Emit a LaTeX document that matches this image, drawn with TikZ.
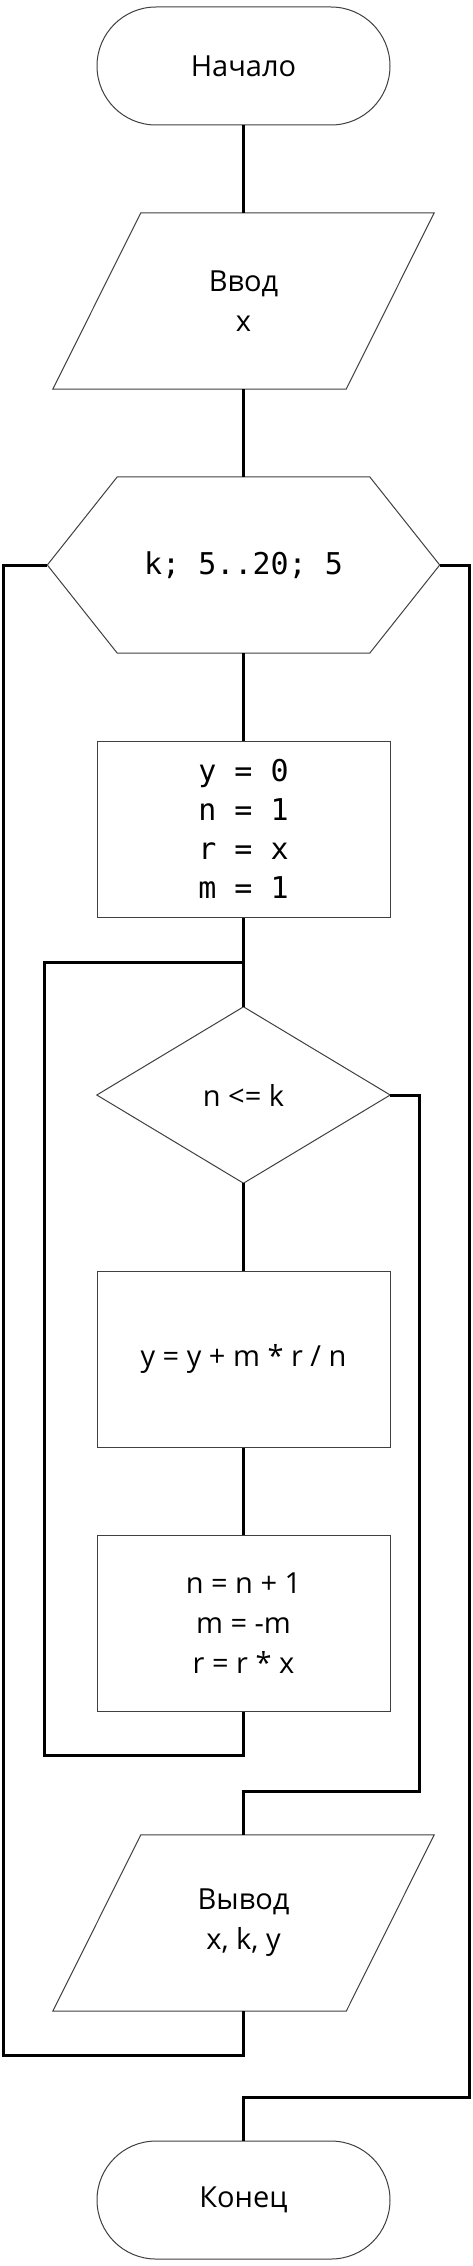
\documentclass[tikz,border=0pt]{standalone}
\usepackage{fontspec}
\setmainfont{Open Sans}
\newfontfamily\monof{DejaVu Sans Mono}
\tikzset{
  txt/.style={font=\fontsize{29}{40}\selectfont, align=center, inner sep=0pt, text=black},
  mono/.style={font=\monof\fontsize{30}{39}\selectfont, align=center, inner sep=0pt, text=black},
  outline/.style={draw=black!75, line width=1pt},
  term/.style={txt, outline, rounded corners=59pt, minimum width=293pt, minimum height=118pt},
  procbox/.style={outline, minimum width=293pt, minimum height=176pt},
  frame/.style={minimum width=#1, minimum height=176pt},
  conn/.style={line width=3pt, draw=black, line join=miter}
}
\begin{document}
\begin{tikzpicture}[x=1pt,y=-1pt]
\useasboundingbox[fill=white] (0,0) rectangle (472,2266);

% nodes
\node[term] (start) at (243.5,66) {Начало};
\node[txt, frame=381pt] (in) at (243.5,301) {Ввод\\x};
\node[mono, frame=392pt] (hex) at (243.5,565) {k; 5..20; 5};
\node[mono, procbox] (r1) at (243.5,829) {y = 0\\n = 1\\r = x\\m = 1};
\node[txt, frame=293pt] (dia) at (243.5,1095) {n <= k};
\node[txt, procbox] (r2) at (243.5,1359) {y = y + m * r / n};
\node[txt, procbox] (r3) at (243.5,1623) {n = n + 1\\m = -m\\r = r * x};
\node[txt, frame=381pt] (out) at (243.5,1923) {Вывод\\x, k, y};
\node[term] (end) at (243.5,2200) {Конец};

% outlines of special shapes
\draw[outline] ([xshift=88pt]in.north west) -- (in.north east) -- ([xshift=-88pt]in.south east) -- (in.south west) -- cycle;
\draw[outline] ([xshift=88pt]out.north west) -- (out.north east) -- ([xshift=-88pt]out.south east) -- (out.south west) -- cycle;
\draw[outline] ([xshift=70pt]hex.north west) -- ([xshift=-70pt]hex.north east) -- (hex.east) -- ([xshift=-70pt]hex.south east) -- ([xshift=70pt]hex.south west) -- (hex.west) -- cycle;
\draw[outline] (dia.north) -- (dia.east) -- (dia.south) -- (dia.west) -- cycle;

% helper coordinates
\coordinate (ij) at (243.5,962);
\coordinate (itl) at (44,962);
\coordinate (ib) at (243.5,1755);
\coordinate (ibl) at (44,1755);
\coordinate (dr) at (419,1095);
\coordinate (drb) at (419,1791);
\coordinate (ej) at (243.5,1791);
\coordinate (ob) at (243.5,2055);
\coordinate (obl) at (3.5,2055);
\coordinate (otl) at (3.5,565);
\coordinate (hr) at (469,565);
\coordinate (hrb) at (469,2097);
\coordinate (xj) at (243.5,2097);

% connectors
\draw[conn] (start.south) -- (in.north);
\draw[conn] (in.south) -- (hex.north);
\draw[conn] (hex.south) -- (r1.north);
\draw[conn] (r1.south) -- (dia.north);
\draw[conn] (dia.south) -- (r2.north);
\draw[conn] (r2.south) -- (r3.north);
\draw[conn] (r3.south) -- (ib) -- (ibl) -- (itl) -- (ij);
\draw[conn] (dia.east) -- (dr) -- (drb) -- (ej) -- (out.north);
\draw[conn] (out.south) -- (ob) -- (obl) -- (otl) -- (hex.west);
\draw[conn] (hex.east) -- (hr) -- (hrb) -- (xj) -- (end.north);
\end{tikzpicture}
\end{document}
